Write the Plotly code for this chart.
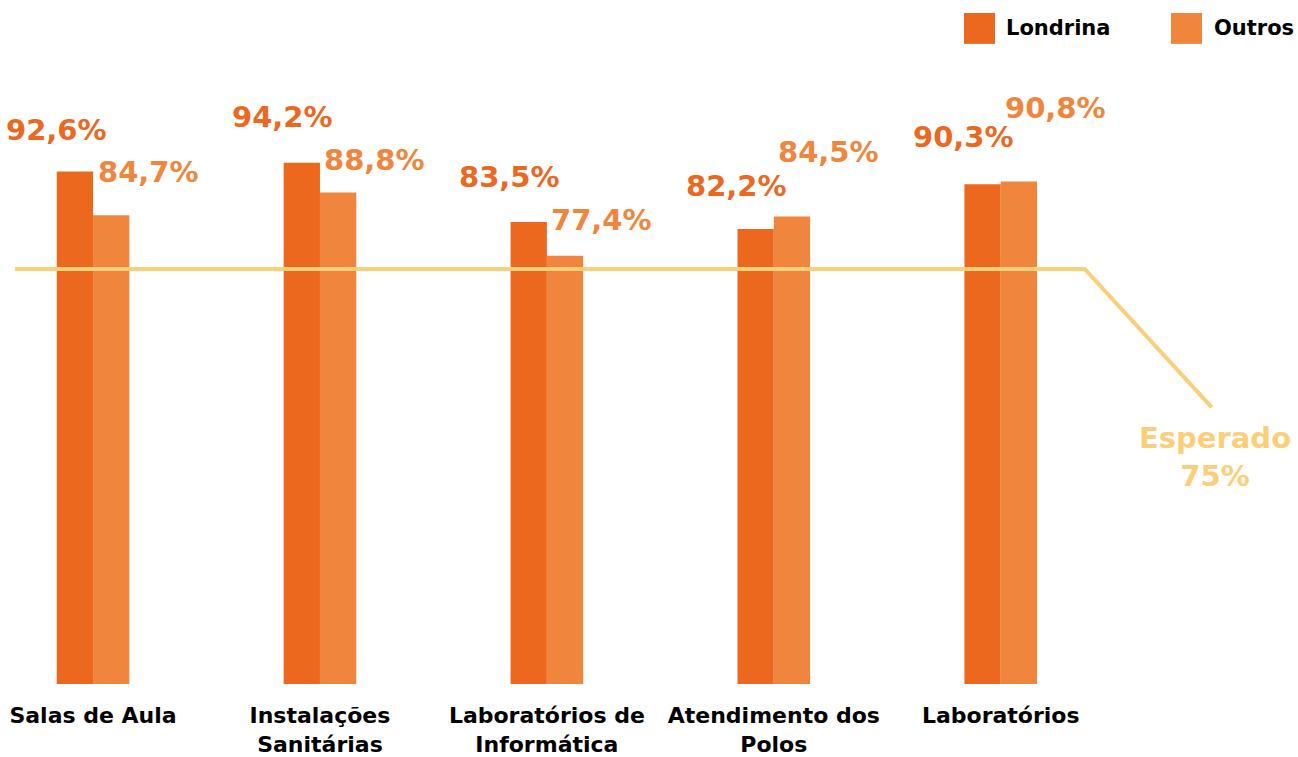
import plotly.graph_objects as go

categories = ["Salas de Aula", "Instalações<br>Sanitárias", "Laboratórios de<br>Informática",
              "Atendimento dos<br>Polos", "Laboratórios"]
londrina = [92.6, 94.2, 83.5, 82.2, 90.3]
outros = [84.7, 88.8, 77.4, 84.5, 90.8]
esperado = 75

# linha do esperado: trecho reto e depois a descida até o texto
esperado_x = [-0.344, 4.37, 4.93]
esperado_y = [esperado, esperado, 50]

# deslocamentos dos rótulos (pixels acima da barra)
londrina_yshift = [42, 46, 45, 43, 47]
outros_yshift = [43, 33, 36, 64, 74]

COR_LON = "#EC681F"
COR_OUT = "#F0863D"
COR_ESP = "#FBCF7A"
FONTE = "DejaVu Sans"


def fmt(v):
    return f"{v:.1f}%".replace(".", ",")


fig = go.Figure()
fig.add_trace(go.Bar(x=categories, y=londrina, name="Londrina", marker_color=COR_LON,
                     marker_line_width=0))
fig.add_trace(go.Bar(x=categories, y=outros, name="Outros", marker_color=COR_OUT,
                     marker_line_width=0))

# linha esperado
path = "M " + " L ".join(f"{x},{y}" for x, y in zip(esperado_x, esperado_y))
fig.add_shape(type="path", path=path, xref="x", yref="y",
              line=dict(color=COR_ESP, width=4), layer="above")

annotations = []
for i, cat in enumerate(categories):
    annotations.append(dict(x=cat, y=londrina[i], text=fmt(londrina[i]), showarrow=False,
                            xshift=-37, yshift=londrina_yshift[i], yanchor="middle",
                            font=dict(family=FONTE, size=29, color=COR_LON, weight="bold")))
    annotations.append(dict(x=cat, y=outros[i], text=fmt(outros[i]), showarrow=False,
                            xshift=55, yshift=outros_yshift[i], yanchor="middle",
                            font=dict(family=FONTE, size=29, color=COR_OUT, weight="bold")))

annotations.append(dict(x=esperado_x[-1], y=esperado_y[-1], text=f"Esperado<br>{esperado}%",
                        showarrow=False, yanchor="top", yshift=-12, xshift=3,
                        font=dict(family=FONTE, size=29, color=COR_ESP, weight="bold")))

# legenda feita à mão
legenda = [("Londrina", COR_LON, 964, 1004), ("Outros", COR_OUT, 1171, 1212)]
for nome, cor, x0, xt in legenda:
    fig.add_shape(type="rect", xref="paper", yref="paper",
                  x0=x0 / 1298, x1=(x0 + 31) / 1298, y0=1 - 44 / 686, y1=1 - 13 / 686,
                  fillcolor=cor, line_width=0)
    annotations.append(dict(xref="paper", yref="paper", x=xt / 1298, y=1 - 28 / 686,
                            xanchor="left", yanchor="middle", text=nome, showarrow=False,
                            font=dict(family=FONTE, size=21, color="black", weight="bold")))

fig.update_layout(
    width=1298, height=757,
    margin=dict(l=0, r=0, t=0, b=71),
    paper_bgcolor="white", plot_bgcolor="white",
    barmode="group", bargap=0.68, bargroupgap=0,
    showlegend=False,
    annotations=annotations,
    font=dict(family=FONTE),
    xaxis=dict(range=[-0.41, 5.31], showgrid=False, showline=False, zeroline=False,
               ticks="", ticklabelstandoff=16,
               tickfont=dict(family=FONTE, size=22, color="black", weight="bold")),
    yaxis=dict(range=[0, 123.6], visible=False),
)

fig.write_html("out.html", config={"displayModeBar": False},
               post_script="document.body.style.margin='0';")
